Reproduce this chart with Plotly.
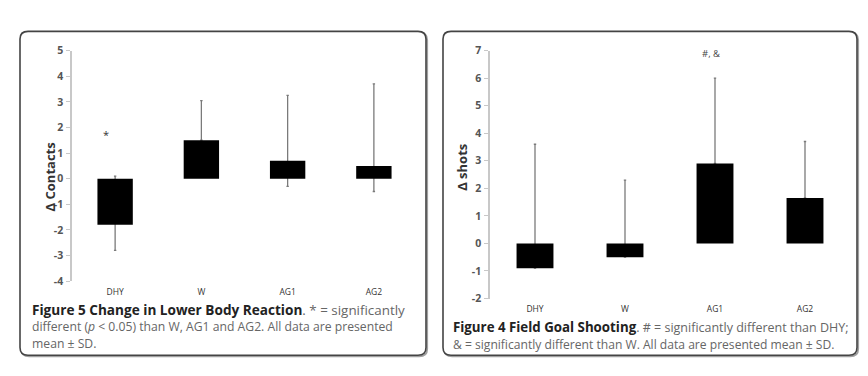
import plotly.graph_objects as go

# The page body has the default 8px margin; size the figure to fit the 868x376 window.
VIEW_W, VIEW_H = 868, 376
OFF_X, OFF_Y = 8, 8
W, H = VIEW_W - 2 * OFF_X, VIEW_H - 2 * OFF_Y

# ---------------- data ----------------
categories = ["DHY", "W", "AG1", "AG2"]

# Figure 5: Change in Lower Body Reaction (Δ Contacts)
contacts_mean = [-1.8, 1.5, 0.7, 0.5]
contacts_err_up = [1.9, 1.55, 2.55, 3.2]
contacts_err_down = [1.0, 0.0, 1.0, 1.0]
contacts_ticks = [-4, -3, -2, -1, 0, 1, 2, 3, 4, 5]
contacts_marker_y = 1.85   # "*" marker

# Figure 4: Field Goal Shooting (Δ shots)
shots_mean = [-0.9, -0.5, 2.9, 1.65]
shots_err_up = [4.5, 2.8, 3.1, 2.05]
shots_err_down = [0.0, 0.0, 0.0, 0.0]
shots_ticks = [-2, -1, 0, 1, 2, 3, 4, 5, 6, 7]
shots_marker_y = 6.9       # "#, &" marker

# ---------------- layout helpers (window pixels -> paper) ----------------
def px_x(p):
    return (p - OFF_X) / W

def px_y(p):
    return 1 - (p - OFF_Y) / H

FONT = "Open Sans"
BAR_W = 0.41
ERR_COLOR = "#7a7a7a"
AXIS_COLOR = "#c8c8c8"
TICK_FONT = dict(family=FONT, size=10.5, color="#555", weight="bold")
CAT_FONT = dict(family=FONT, size=8.5, color="#333")

left_dom_x = [px_x(72), px_x(417)]
left_dom_y = [px_y(285), px_y(45)]
right_dom_x = [px_x(490), px_x(850)]
right_dom_y = [px_y(303), px_y(45)]

fig = go.Figure()

def add_panel(xa, ya, means, up, down):
    # transparent bars carrying the error bars (drawn first, covered by black bars)
    fig.add_trace(go.Bar(
        x=categories, y=means, width=BAR_W, xaxis=xa, yaxis=ya,
        marker=dict(color="rgba(0,0,0,0)", line=dict(width=0)),
        error_y=dict(type="data", symmetric=False, array=up, arrayminus=down,
                     color=ERR_COLOR, thickness=1.3, width=1.2),
        hoverinfo="skip", showlegend=False))
    fig.add_trace(go.Bar(
        x=categories, y=means, width=BAR_W, xaxis=xa, yaxis=ya,
        marker=dict(color="black", line=dict(width=0)),
        showlegend=False))

add_panel("x", "y", contacts_mean, contacts_err_up, contacts_err_down)
add_panel("x2", "y2", shots_mean, shots_err_up, shots_err_down)

def zero_pos(dom, ticks):
    lo, hi = ticks[0], ticks[-1]
    return dom[0] + (0 - lo) / (hi - lo) * (dom[1] - dom[0])

boundaries = [i + 0.5 for i in range(len(categories) - 1)]

def cat_axis(dom, anchor):
    return dict(domain=dom, anchor=anchor, type="category",
                range=[-0.5, len(categories) - 0.5],
                showline=False, showgrid=False, zeroline=False, ticks="",
                tickfont=CAT_FONT, ticklabelstandoff=4)

def val_axis(dom, anchor, ticks):
    return dict(domain=dom, anchor=anchor, range=[ticks[0], ticks[-1]],
                tickvals=ticks, ticktext=[str(t) for t in ticks],
                showgrid=False, zeroline=False,
                showline=True, linecolor=AXIS_COLOR, linewidth=1.5,
                ticks="outside", ticklen=4, tickcolor=AXIS_COLOR, tickwidth=1,
                tickfont=TICK_FONT, ticklabelstandoff=1)

def zero_axis(base, pos):
    return dict(overlaying=base, anchor="free", position=pos,
                range=[-0.5, len(categories) - 0.5], tickvals=boundaries,
                showticklabels=False, showgrid=False, zeroline=False,
                showline=True, linecolor=AXIS_COLOR, linewidth=1.5,
                ticks="outside", ticklen=3, tickcolor=AXIS_COLOR)

fig.update_layout(
    width=W, height=H, margin=dict(l=0, r=0, t=0, b=0),
    paper_bgcolor="white", plot_bgcolor="white",
    barmode="overlay",
    xaxis=cat_axis(left_dom_x, "y"),
    yaxis=val_axis(left_dom_y, "x", contacts_ticks),
    xaxis2=cat_axis(right_dom_x, "y2"),
    yaxis2=val_axis(right_dom_y, "x2", shots_ticks),
    xaxis3=zero_axis("x", zero_pos(left_dom_y, contacts_ticks)),
    xaxis4=zero_axis("x2", zero_pos(right_dom_y, shots_ticks)),
)

# ---------------- frames ----------------
def rounded_rect(x0, y0, x1, y1, r=8):
    X = lambda v: px_x(v)
    Y = lambda v: px_y(v)
    return (f"M {X(x0 + r)},{Y(y0)} L {X(x1 - r)},{Y(y0)} "
            f"Q {X(x1)},{Y(y0)} {X(x1)},{Y(y0 + r)} L {X(x1)},{Y(y1 - r)} "
            f"Q {X(x1)},{Y(y1)} {X(x1 - r)},{Y(y1)} L {X(x0 + r)},{Y(y1)} "
            f"Q {X(x0)},{Y(y1)} {X(x0)},{Y(y1 - r)} L {X(x0)},{Y(y0 + r)} "
            f"Q {X(x0)},{Y(y0)} {X(x0 + r)},{Y(y0)} Z")

for (x0, y0, x1, y1) in [(20, 25, 426, 362), (443, 25, 857, 362)]:
    fig.add_shape(type="path", xref="paper", yref="paper",
                  path=rounded_rect(x0 + 1.2, y0 + 1.2, x1 + 1.2, y1 + 1.2),
                  line=dict(color="#a0a0a0", width=1.8), layer="below")
    fig.add_shape(type="path", xref="paper", yref="paper",
                  path=rounded_rect(x0, y0, x1, y1),
                  line=dict(color="#444", width=1.6), fillcolor="white", layer="below")

# ---------------- text ----------------
ann = []
ann.append(dict(text="<b>Δ Contacts</b>", xref="paper", yref="paper",
                x=px_x(39), y=px_y(177), textangle=-90, showarrow=False,
                font=dict(family=FONT, size=13, color="#333")))
ann.append(dict(text="<b>Δ shots</b>", xref="paper", yref="paper",
                x=px_x(462), y=px_y(167), textangle=-90, showarrow=False,
                font=dict(family=FONT, size=13, color="#333")))
ann.append(dict(text="*", xref="x", yref="y", x=categories[0], y=contacts_marker_y,
                xshift=-9, yshift=-3, showarrow=False,
                font=dict(family=FONT, size=11, color="#333")))
ann.append(dict(text="#, &", xref="x2", yref="y2", x=categories[2], y=shots_marker_y,
                xshift=-4, showarrow=False,
                font=dict(family=FONT, size=9.5, color="#444")))

GREY = "#666"
left_caption = (
    "<span style='font-size:13.6px'><b>Figure 5 Change in Lower Body Reaction</b></span>"
    f"<span style='color:{GREY};font-size:13.4px'>. * = significantly</span><br>"
    f"<span style='color:{GREY};font-size:12.2px'>different (<i>p</i> &lt; 0.05) than W, AG1 and AG2. "
    "All data are presented</span><br>"
    f"<span style='color:{GREY};font-size:12.2px'>mean ± SD.</span>"
)
right_caption = (
    "<span style='font-size:13.3px'><b>Figure 4 Field Goal Shooting</b></span>"
    f"<span style='color:{GREY};font-size:12.5px'>. # = significantly different than DHY;</span><br>"
    f"<span style='color:{GREY};font-size:12.1px'>&amp; = significantly different than W. "
    "All data are presented mean ± SD.</span>"
)
ann.append(dict(text=left_caption, xref="paper", yref="paper", x=px_x(31), y=px_y(331.5),
                xanchor="left", yanchor="middle", align="left", showarrow=False,
                font=dict(family=FONT, size=12.6, color="#222"), borderpad=0))
ann.append(dict(text=right_caption, xref="paper", yref="paper", x=px_x(452), y=px_y(341.5),
                xanchor="left", yanchor="middle", align="left", showarrow=False,
                font=dict(family=FONT, size=13, color="#222"), borderpad=0))

fig.update_layout(annotations=ann)

fig.write_html("out.html")
